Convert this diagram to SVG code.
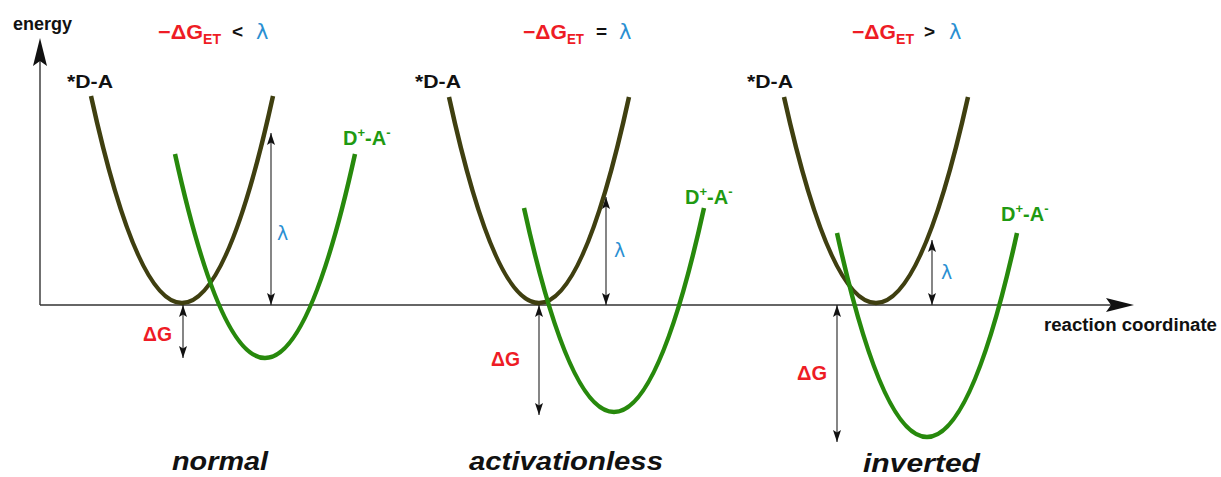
<svg xmlns="http://www.w3.org/2000/svg" width="1221" height="477" viewBox="0 0 1221 477">
  <style>
    .axis { stroke: #333; stroke-width: 1.4; fill: none; }
    .dim { stroke: #222; stroke-width: 1.1; fill: none; marker-start: url(#sm); marker-end: url(#sm); }
    .da { stroke: #3f3f10; stroke-width: 4.5; fill: none; }
    .ct { stroke: #27890c; stroke-width: 4.5; fill: none; }
    .lbl { font-family: "Liberation Sans", Arial, sans-serif; font-weight: bold; }
    .blk { fill: #111; }
    .red { fill: #ee1c25; }
    .grn { fill: #1f9a12; }
    .blu { fill: #2a8fd2; font-family: "DejaVu Sans", "Liberation Sans", sans-serif; font-weight: normal; }
    .reg { font-family: "Liberation Sans", Arial, sans-serif; font-weight: bold; font-style: italic; fill: #111; }
  </style>
  <defs>
    <marker id="sm" viewBox="0 0 12 8" refX="12" refY="4" markerWidth="12" markerHeight="8" markerUnits="userSpaceOnUse" orient="auto-start-reverse">
      <path d="M0,0 L12,4 L0,8 L2.5,4 z" fill="#111"/>
    </marker>
  </defs>

  <g id="axes">
    <line class="axis" x1="40" y1="305" x2="40" y2="58"/>
    <path d="M40,38 L47,66 L40,61 L33,66 z" fill="#111"/>
    <line class="axis" x1="40" y1="305" x2="1115" y2="305"/>
    <path d="M1134,305 L1106,298 L1111,305 L1106,312 z" fill="#111"/>
    <text class="lbl blk" x="13" y="30" font-size="18">energy</text>
    <text class="lbl blk" x="1044" y="331" font-size="18" textLength="173" lengthAdjust="spacingAndGlyphs">reaction coordinate</text>
  </g>

  <g id="panel-normal">
    <g id="n-title">
      <text class="lbl red" x="158" y="39" font-size="21" textLength="45" lengthAdjust="spacingAndGlyphs">−ΔG</text>
      <text class="lbl red" x="203" y="44" font-size="15" textLength="18" lengthAdjust="spacingAndGlyphs">ET</text>
      <text class="lbl blk" x="232" y="38" font-size="19">&lt;</text>
      <text class="blu" x="256" y="39" font-size="21">λ</text>
    </g>
    <g id="n-DA">
      <path class="da" d="M91,96 Q182,510 273,96"/>
      <text class="lbl blk" x="67" y="88" font-size="19" textLength="46" lengthAdjust="spacingAndGlyphs">*D-A</text>
    </g>
    <g id="n-CT">
      <path class="ct" d="M175,154 Q265,562 355,154"/>
      <text class="lbl grn" x="343" y="145" font-size="20">D<tspan font-size="13" dy="-8">+</tspan><tspan dy="8">-A</tspan><tspan font-size="13" dy="-8">-</tspan></text>
    </g>
    <text class="blu" x="277" y="240" font-size="19">λ</text>
    <text class="lbl red" x="143" y="341" font-size="20" textLength="29" lengthAdjust="spacingAndGlyphs">ΔG</text>
    <text class="reg" x="172" y="470" font-size="25" textLength="96" lengthAdjust="spacingAndGlyphs">normal</text>
  </g>

  <g id="panel-activationless">
    <g id="a-title">
      <text class="lbl red" x="523" y="39" font-size="21" textLength="44" lengthAdjust="spacingAndGlyphs">−ΔG</text>
      <text class="lbl red" x="567" y="44" font-size="15" textLength="17" lengthAdjust="spacingAndGlyphs">ET</text>
      <text class="lbl blk" x="596" y="38" font-size="19">=</text>
      <text class="blu" x="619" y="39" font-size="21">λ</text>
    </g>
    <g id="a-DA">
      <path class="da" d="M449,97 Q539,509 629,97"/>
      <text class="lbl blk" x="415" y="88" font-size="19" textLength="46" lengthAdjust="spacingAndGlyphs">*D-A</text>
    </g>
    <g id="a-CT">
      <path class="ct" d="M524,208 Q614,616 704,208"/>
      <text class="lbl grn" x="685" y="204" font-size="20">D<tspan font-size="13" dy="-8">+</tspan><tspan dy="8">-A</tspan><tspan font-size="13" dy="-8">-</tspan></text>
    </g>
    <text class="blu" x="614" y="257" font-size="19">λ</text>
    <text class="lbl red" x="491" y="366" font-size="20" textLength="29" lengthAdjust="spacingAndGlyphs">ΔG</text>
    <text class="reg" x="469" y="470" font-size="25" textLength="194" lengthAdjust="spacingAndGlyphs">activationless</text>
  </g>

  <g id="panel-inverted">
    <g id="i-title">
      <text class="lbl red" x="852" y="39" font-size="21" textLength="44" lengthAdjust="spacingAndGlyphs">−ΔG</text>
      <text class="lbl red" x="896" y="44" font-size="15" textLength="18" lengthAdjust="spacingAndGlyphs">ET</text>
      <text class="lbl blk" x="924" y="38" font-size="19">&gt;</text>
      <text class="blu" x="949" y="39" font-size="21">λ</text>
    </g>
    <g id="i-DA">
      <path class="da" d="M784,97 Q876,509 968,97"/>
      <text class="lbl blk" x="747" y="88" font-size="19" textLength="46" lengthAdjust="spacingAndGlyphs">*D-A</text>
    </g>
    <g id="i-CT">
      <path class="ct" d="M837,233 Q927,641 1017,233"/>
      <text class="lbl grn" x="1001" y="221" font-size="20">D<tspan font-size="13" dy="-8">+</tspan><tspan dy="8">-A</tspan><tspan font-size="13" dy="-8">-</tspan></text>
    </g>
    <text class="blu" x="941" y="279" font-size="19">λ</text>
    <text class="lbl red" x="797" y="380" font-size="20" textLength="30" lengthAdjust="spacingAndGlyphs">ΔG</text>
    <text class="reg" x="863" y="472" font-size="25" textLength="117" lengthAdjust="spacingAndGlyphs">inverted</text>
  </g>

  <g id="connectors">
    <line class="dim" x1="271" y1="133" x2="271" y2="305"/>
    <line class="dim" x1="183" y1="305" x2="183" y2="358"/>
    <line class="dim" x1="606" y1="197" x2="606" y2="305"/>
    <line class="dim" x1="539" y1="305" x2="539" y2="415"/>
    <line class="dim" x1="932" y1="240" x2="932" y2="305"/>
    <line class="dim" x1="837" y1="305" x2="837" y2="442"/>
  </g>
</svg>
